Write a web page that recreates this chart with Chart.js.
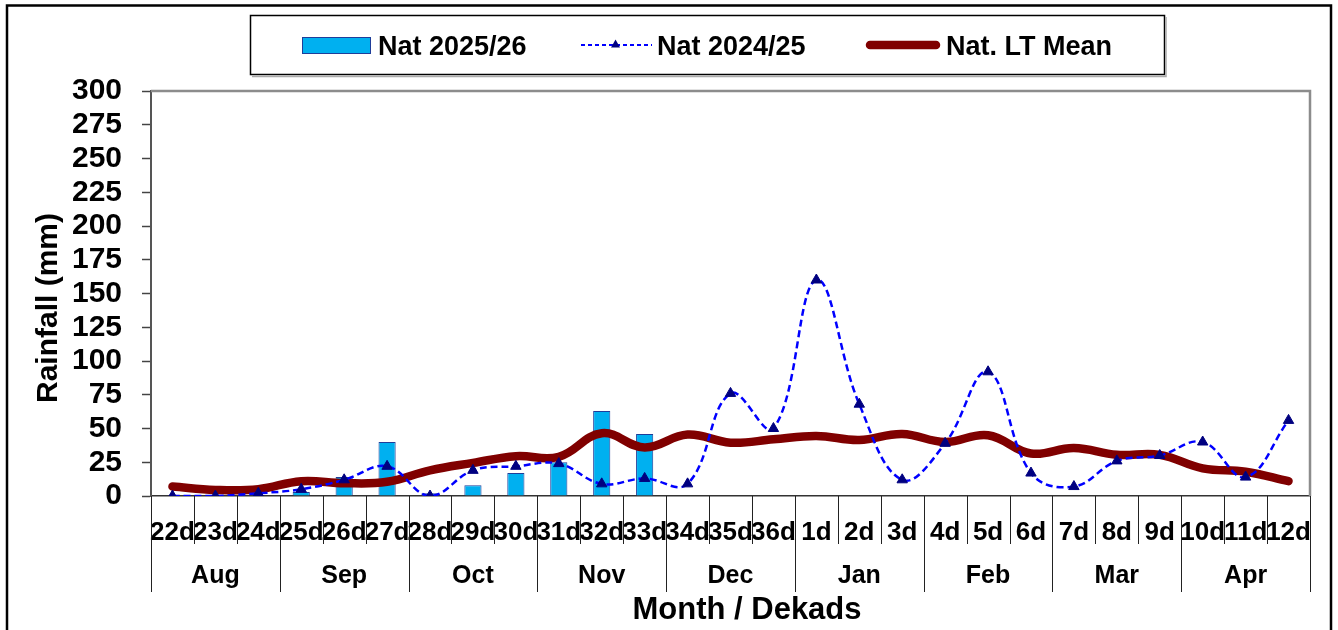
<!DOCTYPE html>
<html>
<head>
<meta charset="utf-8">
<script src="https://cdn.jsdelivr.net/npm/chart.js@4/dist/chart.umd.min.js"></script>
<style>
  html, body { margin: 0; padding: 0; background: #ffffff; }
  canvas { display: block; }
</style>
</head>
<body>
<canvas id="c" width="1338" height="630"></canvas>
<script>
// ---- data ----
const categories = ['22d','23d','24d','25d','26d','27d','28d','29d','30d','31d','32d','33d','34d','35d','36d',
                    '1d','2d','3d','4d','5d','6d','7d','8d','9d','10d','11d','12d'];
const months = ['Aug','Sep','Oct','Nov','Dec','Jan','Feb','Mar','Apr'];
const dekadsPerMonth = 3;
const nat2526 = [0, 0, 0, 3, 14, 40, 2, 8, 17, 25, 63, 46, null, null, null,
                 null, null, null, null, null, null, null, null, null, null, null, null];
const nat2425 = [0, 0, 2, 5, 12, 22, 0, 19, 22, 24, 9, 13, 9, 76, 50,
                 160, 68, 12, 39, 92, 17, 7, 26, 30, 40, 14, 56];
const ltMean  = [7, 4.5, 5, 11, 9.5, 10.5, 19, 24.5, 29.5, 29, 46.5, 36, 45.5, 39.5, 42,
                 44.5, 41.5, 46, 40, 45, 31.5, 35.5, 30.5, 30.5, 20.5, 18, 11];
const seriesNames = ['Nat 2025/26', 'Nat 2024/25', 'Nat. LT Mean'];
const yTitle = 'Rainfall (mm)';
const xTitle = 'Month / Dekads';

const FONT = '"Liberation Sans", Arial, Helvetica, sans-serif';

const decor = {
  id: 'decor',
  beforeDraw(chart) {
    const ctx = chart.ctx;
    ctx.save();
    ctx.fillStyle = '#ffffff';
    ctx.fillRect(0, 0, chart.width, chart.height);
    ctx.restore();
  },
  afterDraw(chart) {
    const { ctx, chartArea: a, scales: { x } } = chart;
    ctx.save();
    // plot area top/right border
    ctx.strokeStyle = '#8c8c8c';
    ctx.lineWidth = 2.5;
    ctx.beginPath();
    ctx.moveTo(a.left, a.top);
    ctx.lineTo(a.right, a.top);
    ctx.lineTo(a.right, a.bottom);
    ctx.stroke();

    // category separators (dekads short, months long)
    ctx.strokeStyle = '#222';
    ctx.lineWidth = 1;
    ctx.beginPath();
    for (let i = 0; i <= categories.length; i++) {
      const px = Math.round(x.getPixelForValue(i - 0.5)) + 0.5;
      const isMonth = i % dekadsPerMonth === 0;
      ctx.moveTo(px, a.bottom);
      ctx.lineTo(px, isMonth ? 592 : 544);
    }
    ctx.stroke();

    // month labels
    ctx.fillStyle = '#000';
    ctx.font = 'bold 25px ' + FONT;
    ctx.textAlign = 'center';
    ctx.textBaseline = 'alphabetic';
    months.forEach((m, k) => {
      const px = x.getPixelForValue(k * dekadsPerMonth + (dekadsPerMonth - 1) / 2);
      ctx.fillText(m, px, 583);
    });

    // axis titles
    ctx.font = 'bold 31px ' + FONT;
    ctx.fillText(xTitle, 747, 619);
    ctx.save();
    ctx.translate(57, 308);
    ctx.rotate(-Math.PI / 2);
    ctx.font = 'bold 30px ' + FONT;
    ctx.fillText(yTitle, 0, 0);
    ctx.restore();

    // legend box
    ctx.strokeStyle = '#000';
    ctx.lineWidth = 1.5;
    ctx.strokeRect(250.5, 15.5, 914, 59);
    ctx.strokeStyle = '#aaa';
    ctx.lineWidth = 1.5;
    ctx.beginPath();
    ctx.moveTo(252, 76.5); ctx.lineTo(1166, 76.5); ctx.lineTo(1166, 17);
    ctx.stroke();

    // legend item 1: bar swatch
    ctx.fillStyle = '#00B0F0';
    ctx.fillRect(302, 37.5, 68, 16);
    ctx.strokeStyle = '#1f3d99';
    ctx.lineWidth = 1;
    ctx.strokeRect(302.5, 37.5, 68, 16);
    // legend item 2: dashed line with triangle
    ctx.strokeStyle = '#0000FF';
    ctx.lineWidth = 2;
    ctx.setLineDash([4, 3]);
    ctx.beginPath();
    ctx.moveTo(581, 45); ctx.lineTo(652, 45);
    ctx.stroke();
    ctx.setLineDash([]);
    ctx.fillStyle = '#000080';
    ctx.beginPath();
    ctx.moveTo(615.5, 39.5); ctx.lineTo(620, 47.5); ctx.lineTo(611, 47.5); ctx.closePath();
    ctx.fill();
    // legend item 3: thick line
    ctx.strokeStyle = '#800000';
    ctx.lineWidth = 8.5;
    ctx.lineCap = 'round';
    ctx.beginPath();
    ctx.moveTo(870, 45); ctx.lineTo(936, 45);
    ctx.stroke();
    ctx.lineCap = 'butt';
    // legend texts
    ctx.fillStyle = '#000';
    ctx.font = 'bold 27px ' + FONT;
    ctx.textAlign = 'left';
    ctx.textBaseline = 'alphabetic';
    ctx.fillText(seriesNames[0], 378, 54.5);
    ctx.fillText(seriesNames[1], 657, 54.5);
    ctx.fillText(seriesNames[2], 946, 54.5);

    // outer frame
    ctx.strokeStyle = '#000';
    ctx.lineWidth = 2.5;
    ctx.strokeRect(7, 5.5, 1324, 640);
    ctx.restore();
  }
};

new Chart(document.getElementById('c'), {
  data: {
    labels: categories,
    datasets: [
      {
        type: 'line',
        label: seriesNames[1],
        data: nat2425,
        borderColor: '#0000FF',
        borderWidth: 2.5,
        borderDash: [7, 4],
        tension: 0.4,
        pointStyle: 'triangle',
        pointRadius: 6,
        pointBackgroundColor: '#000080',
        pointBorderColor: '#000080',
        pointBorderWidth: 1,
        fill: false,
        order: 1
      },
      {
        type: 'line',
        label: seriesNames[2],
        data: ltMean,
        borderColor: '#800000',
        borderWidth: 8.5,
        borderCapStyle: 'round',
        borderJoinStyle: 'round',
        tension: 0.4,
        pointRadius: 0,
        fill: false,
        order: 2
      },
      {
        type: 'bar',
        label: seriesNames[0],
        data: nat2526,
        backgroundColor: '#00B0F0',
        borderColor: '#1f3d99',
        borderWidth: 1,
        categoryPercentage: 1.0,
        barPercentage: 0.4,
        order: 3
      }
    ]
  },
  options: {
    responsive: false,
    animation: false,
    events: [],
    layout: { padding: { left: 0, right: 28, top: 91, bottom: 0 } },
    plugins: {
      legend: { display: false },
      tooltip: { enabled: false },
      title: { display: false }
    },
    scales: {
      x: {
        type: 'category',
        offset: true,
        grid: { display: false },
        border: { display: true, color: '#333', width: 1.5 },
        ticks: {
          autoSkip: false,
          maxRotation: 0,
          minRotation: 0,
          padding: 13,
          color: '#000',
          font: { family: FONT, size: 26, weight: 'bold' }
        },
        afterFit(scale) { scale.height = 134; }
      },
      y: {
        min: 0,
        max: 300,
        ticks: {
          stepSize: 25,
          autoSkip: false,
          padding: 20,
          color: '#000',
          font: { family: FONT, size: 30, weight: 'bold' }
        },
        grid: {
          display: true,
          drawOnChartArea: false,
          drawTicks: true,
          tickLength: 9,
          tickColor: '#444',
          tickWidth: 1.5
        },
        border: { display: true, color: '#555', width: 2 },
        afterFit(scale) { scale.width = 151; }
      }
    }
  },
  plugins: [decor]
});
</script>
</body>
</html>
